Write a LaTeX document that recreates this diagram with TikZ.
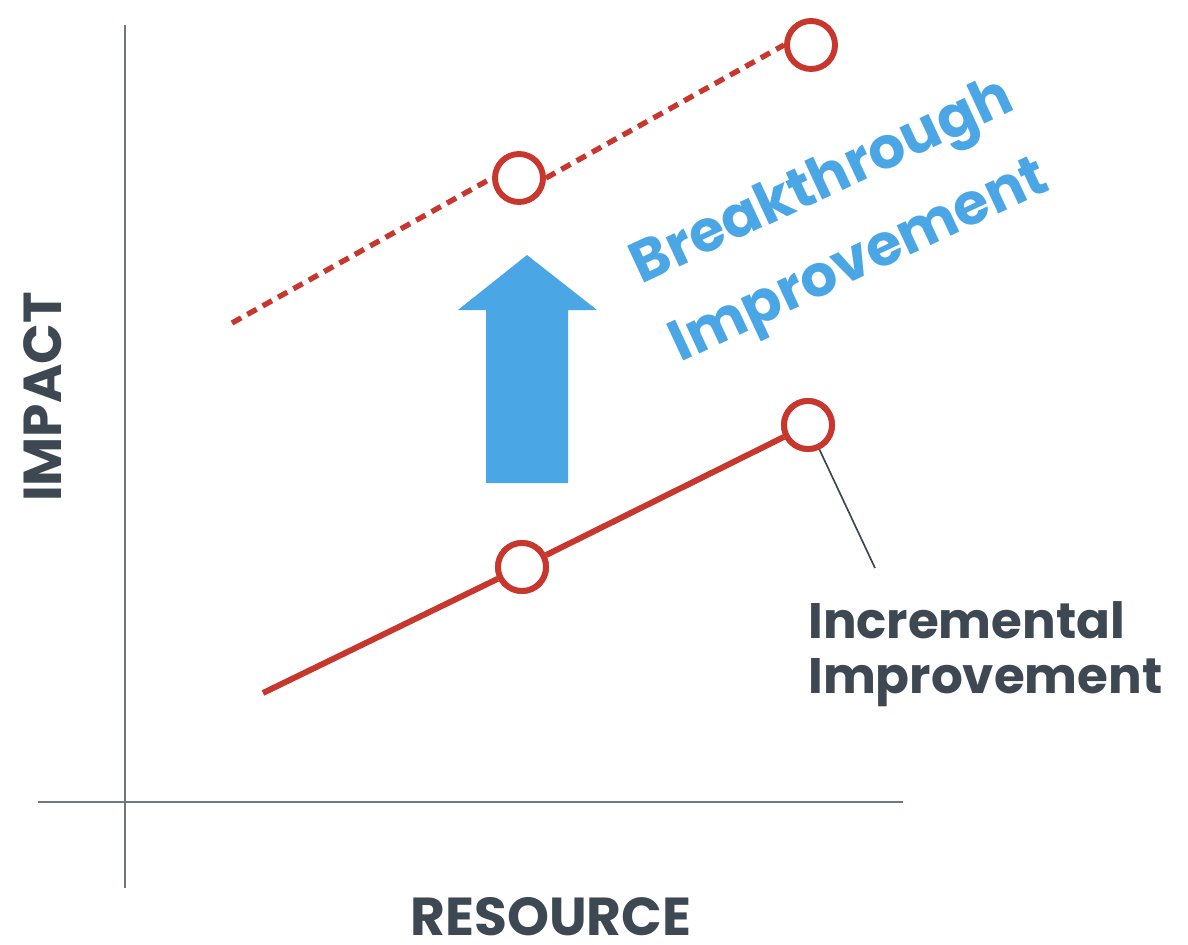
\documentclass[tikz,border=0pt]{standalone}
\usepackage{fontspec}
\setmainfont{Poppins}
\definecolor{axisgray}{HTML}{6E7780}
\definecolor{ired}{HTML}{C8372D}
\definecolor{iblue}{HTML}{4AA6E4}
\definecolor{darktext}{HTML}{3D4852}
\begin{document}
\begin{tikzpicture}[x=0.025cm,y=-0.025cm,
  axis/.style={draw=axisgray,line width=1.8pt},
  pt/.style={circle,draw=ired,line width=4.2pt,fill=white,minimum size=1.2cm,inner sep=0pt},
  solidline/.style={draw=ired,line width=4.2pt},
  dashline/.style={draw=ired,line width=3.8pt,dash pattern=on 7.5pt off 5pt},
  lbl/.style={text=darktext,font=\bfseries\fontsize{35.5}{39}\selectfont,inner sep=0pt},
  axlbl/.style={text=darktext,font=\bfseries\fontsize{38}{46}\selectfont,inner sep=0pt},
  blbl/.style={text=iblue,font=\bfseries\fontsize{41}{62}\selectfont,inner sep=0pt,align=center}]
\useasboundingbox (0,0) rectangle (1188,945);
% axes
\coordinate (yt) at (125,25);
\coordinate (yb) at (125,888);
\coordinate (xl) at (38,802);
\coordinate (xr) at (903,802);
\draw[axis] (yt) -- (yb);
\draw[axis] (xl) -- (xr);
% incremental line
\coordinate (s0) at (263,693);
\node[pt] (s1) at (522,567) {};
\node[pt] (s2) at (808,425) {};
\draw[solidline] (s0) -- (s1) -- (s2);
\node[pt] at (s1) {};
\node[pt] at (s2) {};
% breakthrough line
\coordinate (d0) at (232,323);
\node[pt] (d1) at (519,178) {};
\node[pt] (d2) at (811,45) {};
\draw[dashline] (d0) -- (d1.west);
\draw[dashline] (d1.east) -- (d2.west);
% big arrow
\fill[iblue] (486,483) -- (568,483) -- (568,310) -- (597,310) -- (527,255) -- (458,310) -- (486,310) -- cycle;
% labels
\coordinate (lead) at (875,568);
\draw[darktext,line width=1.2pt] (s2.-65) -- (lead);
\node[lbl,anchor=base west] (inc1) at (808,638) {Incremental};
\node[lbl,anchor=base west] (inc2) at (808,693) {Improvement};
\node[blbl,rotate=25] (brk) at (842,224) {Breakthrough\\Improvement};
\node[axlbl,anchor=base,rotate=90] (imp) at (61,397) {IMPACT};
\node[axlbl,anchor=base] (res) at (551,935) {RESOURCE};
\end{tikzpicture}
\end{document}
